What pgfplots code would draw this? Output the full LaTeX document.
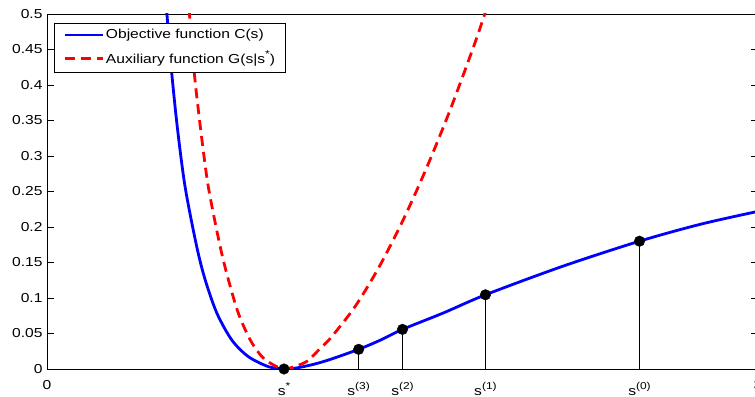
\documentclass[border=0pt]{standalone}
\usepackage{fontspec}
\setmainfont{Liberation Sans}[FakeStretch=1.2]
\usepackage{pgfplots}
\pgfplotsset{compat=1.18}
\newcommand\sx[1]{\raisebox{6pt}{\fontsize{10pt}{10pt}\selectfont #1}}
\begin{document}
\fontsize{13pt}{15pt}\selectfont
\begin{tikzpicture}
\begin{axis}[
  name=ax, scale only axis, width=711pt, height=355pt,
  xmin=0, xmax=3, ymin=0, ymax=0.5,
  font=\fontsize{13pt}{15pt}\selectfont,
  tick align=inside, major tick length=7pt,
  xtick={0,1,1.315,1.5,1.85,2.5,3},
  xticklabels={0,
    \raisebox{-5.6pt}{s\sx{*}},
    \raisebox{-5.6pt}{s\sx{(3)}},
    \raisebox{-5.6pt}{s\sx{(2)}},
    \raisebox{-5.6pt}{s\sx{(1)}},
    \raisebox{-5.6pt}{s\sx{(0)}},
    3},
  xtick style={draw=none},
  xticklabel style={anchor=base, yshift=-21pt},
  ytick={0,0.05,0.1,0.15,0.2,0.25,0.3,0.35,0.4,0.45,0.5},
  yticklabel style={/pgf/number format/fixed, /pgf/number format/precision=2},
  scaled y ticks=false,
  /pgf/number format/assume math mode=true,
  axis line style={line width=0.8pt},
  every tick/.style={black, line width=0.6pt},
  legend style={at={(0.0103,0.976)}, anchor=north west, draw=black, line width=0.7pt,
    font=\fontsize{13pt}{15pt}\selectfont, legend cell align=left,
    row sep=6pt, inner xsep=8.5pt, inner ysep=4.5pt},
  legend image code/.code={\draw[#1] (0pt,0pt) -- (38pt,0pt);},
]
\addplot[blue, line width=2.8pt, smooth] coordinates {
 (0.495,0.54) (0.506,0.5) (0.524,0.425) (0.55,0.34) (0.583,0.256)
 (0.632,0.172) (0.668,0.125) (0.717,0.0785) (0.78,0.0407) (0.85,0.0173) (0.935,0.0032)
 (1.0,0) (1.05,0.0013) (1.125,0.0066) (1.196,0.0136) (1.315,0.0277) (1.407,0.0407)
 (1.5,0.0558) (1.673,0.079) (1.85,0.1045) (2.176,0.1447) (2.5,0.18) (2.759,0.204) (3.0,0.222)
};
\addlegendentry{Objective function C(s)}
\addplot[red, line width=2.8pt, dash pattern=on 10pt off 6pt, smooth] coordinates {
 (0.593,0.53) (0.601,0.5) (0.622,0.415) (0.65,0.333) (0.681,0.256)
 (0.731,0.172) (0.766,0.125) (0.808,0.078) (0.858,0.0407) (0.907,0.0173) (0.956,0.0056)
 (1.0,0) (1.05,0.004) (1.1,0.0115) (1.15,0.028) (1.2,0.045) (1.3,0.088) (1.4,0.143)
 (1.5,0.208) (1.6,0.282) (1.7,0.364) (1.8,0.454) (1.85,0.503) (1.87,0.525)
};
\addlegendentry{Auxiliary function G(s|s\sx{*})}
\addplot[ycomb, black, line width=0.6pt, forget plot] coordinates {
 (1.315,0.0277) (1.5,0.0558) (1.85,0.1045) (2.5,0.18)
};
\addplot[only marks, mark=*, mark size=5.3pt, black, forget plot] coordinates {
 (1,0) (1.315,0.0277) (1.5,0.0558) (1.85,0.1045) (2.5,0.18)
};
\end{axis}
\pgfresetboundingbox
\path[use as bounding box] ([xshift=-47pt,yshift=-28pt]ax.south west) rectangle ([xshift=-3pt,yshift=14pt]ax.north east);
\end{tikzpicture}
\end{document}
